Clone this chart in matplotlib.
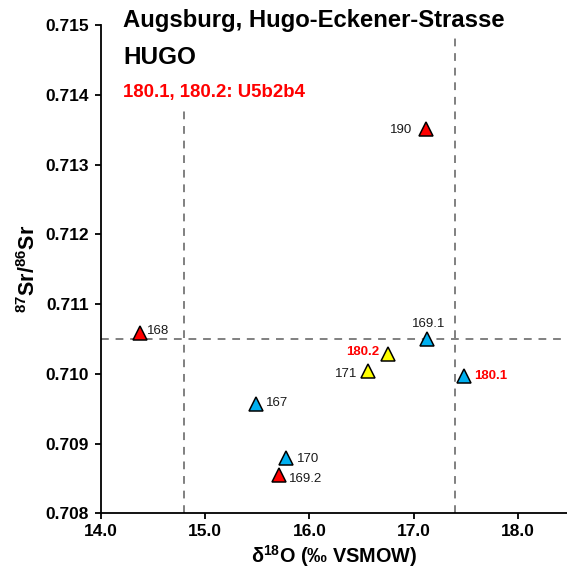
import matplotlib
matplotlib.use("Agg")
import matplotlib.pyplot as plt

plt.rcParams['font.family'] = ['Liberation Sans', 'DejaVu Sans']
plt.rcParams['mathtext.fontset'] = 'custom'
plt.rcParams['mathtext.rm'] = 'Liberation Sans'
plt.rcParams['mathtext.bf'] = 'Liberation Sans:bold'
plt.rcParams['mathtext.it'] = 'Liberation Sans:italic'

# data
labels = ["190", "168", "169.1", "180.2", "171", "180.1", "167", "170", "169.2"]
d18O = [17.12, 14.38, 17.13, 16.75, 16.56, 17.48, 15.49, 15.78, 15.71]
sr = [0.71351, 0.71058, 0.71050, 0.71028, 0.71004, 0.70997, 0.70957, 0.70880, 0.70855]
groups = ["red", "red", "blue", "yellow", "yellow", "blue", "blue", "blue", "red"]
highlight = ["180.1", "180.2"]
x_ref = [14.8, 17.4]
y_ref = 0.7105
xticks = [14.0, 15.0, 16.0, 17.0, 18.0]
yticks = [0.708, 0.709, 0.710, 0.711, 0.712, 0.713, 0.714, 0.715]

colors = {"red": "#FF0000", "blue": "#00B0F0", "yellow": "#FFFF00"}

W, H = 567, 574
fig = plt.figure(figsize=(W / 100, H / 100), dpi=100)
ax = fig.add_axes([100.7 / W, 60.6 / H, 1 - 100.7 / W, (513.4 - 25) / H])
ax.set_xlim(14.0, 18.47)
ax.set_ylim(0.708, 0.715)

dash = dict(color="#808080", lw=1.4, dashes=(4, 3.5), zorder=1)
ax.axvline(x_ref[0], ymin=0, ymax=(0.71381 - 0.708) / 0.007, **dash)
ax.axvline(x_ref[1], ymin=0, ymax=(0.7149 - 0.708) / 0.007, **dash)
ax.axhline(y_ref, **dash)

for x, y, g in zip(d18O, sr, groups):
    ax.plot(x, y, marker="^", ms=10.5, mfc=colors[g], mec="black", mew=1.1,
            ls="none", zorder=3, clip_on=False)

# label offsets in pixels (dx, dy, ha)
offs = {
    "190": (-14, -1, "right"),
    "168": (7, 2, "left"),
    "169.1": (1, 15, "center"),
    "180.2": (-8, 2.5, "right"),
    "171": (-10, -3, "right"),
    "180.1": (10, -0.5, "left"),
    "167": (10, 1, "left"),
    "170": (11, -1.5, "left"),
    "169.2": (10, -3.5, "left"),
}
for lab, x, y in zip(labels, d18O, sr):
    dx, dy, ha = offs[lab]
    hl = lab in highlight
    ax.annotate(lab, (x, y), xytext=(dx, dy), textcoords="offset pixels",
                ha=ha, va="center", fontsize=9.5,
                color="#FF0000" if hl else "#1a1a1a",
                fontweight="bold" if hl else "normal", zorder=4)

for s in ["top", "right"]:
    ax.spines[s].set_visible(False)
for s in ["left", "bottom"]:
    ax.spines[s].set_linewidth(1.3)

ax.set_xticks(xticks)
ax.set_xticklabels([f"{v:.1f}" for v in xticks])
ax.set_yticks(yticks)
ax.set_yticklabels([f"{v:.3f}" for v in yticks])
ax.tick_params(axis="both", direction="out", length=4.5, width=1.3,
               labelsize=12.5, pad=3)
ax.tick_params(axis="y", pad=4)
for t in ax.get_xticklabels() + ax.get_yticklabels():
    t.set_fontweight("bold")

ax.set_xlabel(r"δ$^{\mathbf{18}}$O (‰ VSMOW)", fontsize=14.3, fontweight="bold", labelpad=3)
ax.set_ylabel(r"$\mathbf{^{87}Sr/^{86}Sr}$", fontsize=15.5, labelpad=4)

fig.text(123 / W, 1 - 26.7 / H, "Augsburg, Hugo-Eckener-Strasse", fontsize=17.2,
         fontweight="bold", ha="left", va="baseline")
fig.text(123 / W, 1 - 64.3 / H, "HUGO", fontsize=17.5, fontweight="bold",
         ha="left", va="baseline")
fig.text(123 / W, 1 - 97 / H, "180.1, 180.2: U5b2b4", fontsize=13.4,
         fontweight="bold", color="#FF0000", ha="left", va="baseline")

fig.savefig("out.png", dpi=100)
